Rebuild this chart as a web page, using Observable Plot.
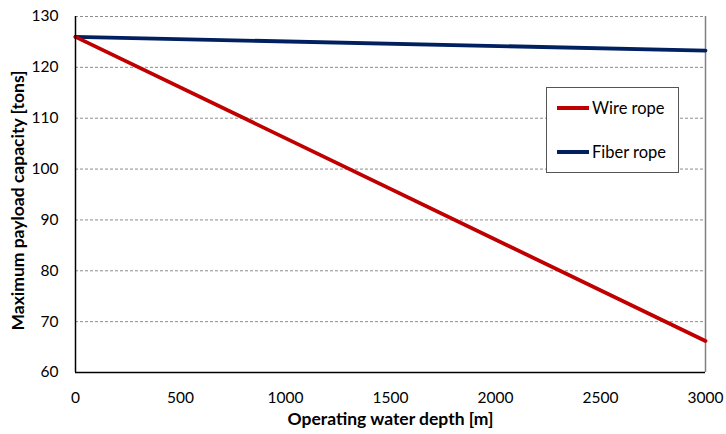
<!DOCTYPE html>
<html><head><meta charset="utf-8">
<script src="https://cdn.jsdelivr.net/npm/d3@7"></script>
<script src="https://cdn.jsdelivr.net/npm/@observablehq/plot@0.6"></script>
<style>
body{margin:0;background:#fff;}
#wrap{position:relative;width:726px;height:434px;font-family:Lato,"Open Sans",sans-serif;}
#legend{position:absolute;left:546px;top:87px;width:133px;height:86px;border:1px solid #555;background:#fff;box-sizing:border-box;font-size:16.5px;color:#000;}
.item{position:absolute;left:10px;height:20px;display:flex;align-items:center;}
.sw{width:32px;height:3.5px;margin-right:3px;}
</style></head>
<body><div id="wrap"><div id="legend"></div></div>
<script>
const depth = [0, 3000];
const wireRope = [126, 66.2];
const fiberRope = [126, 123.3];
const seriesNames = ["Wire rope", "Fiber rope"];
const seriesColors = ["#C00000", "#002060"];
const yTicks = [60, 70, 80, 90, 100, 110, 120, 130];
const xTicks = [0, 500, 1000, 1500, 2000, 2500, 3000];

const wireData = depth.map((d, i) => ({depth: d, value: wireRope[i]}));
const fiberData = depth.map((d, i) => ({depth: d, value: fiberRope[i]}));

const chart = Plot.plot({
  width: 726, height: 434,
  marginLeft: 75, marginRight: 21, marginTop: 16, marginBottom: 62,
  style: {fontFamily: "Lato, 'Open Sans', sans-serif", fontSize: "15.5px", color: "#000", background: "#fff", overflow: "visible"},
  x: {domain: [0, 3000], label: null},
  y: {domain: [60, 130], label: null},
  marks: [
    Plot.ruleY(yTicks.filter(v => v > 60), {stroke: "#8c8c8c", strokeDasharray: "3,2", strokeWidth: 1}),
    Plot.ruleX([3000], {stroke: "#808080", strokeWidth: 1.5}),
    Plot.axisX({ticks: xTicks, tickSize: 0, tickPadding: 19, fontSize: 15.5, tickFormat: "d", label: null}),
    Plot.axisY({ticks: yTicks, tickSize: 0, tickPadding: 17, fontSize: 15.5, tickFormat: "d", label: null}),
    Plot.line(fiberData, {x: "depth", y: "value", stroke: seriesColors[1], strokeWidth: 3.8}),
    Plot.line(wireData, {x: "depth", y: "value", stroke: seriesColors[0], strokeWidth: 3.8}),
    Plot.ruleX([0], {stroke: "#000", strokeWidth: 1.5}),
    Plot.ruleY([60], {stroke: "#000", strokeWidth: 1.5}),
    Plot.text(["Operating water depth [m]"], {frameAnchor: "bottom", textAnchor: "middle", lineAnchor: "middle", dy: 47, fontWeight: "bold", fontSize: 17.5}),
    Plot.text(["Maximum payload capacity [tons]"], {frameAnchor: "left", textAnchor: "middle", lineAnchor: "middle", dx: -57, dy: 6, rotate: -90, fontWeight: "bold", fontSize: 17.5})
  ]
});
document.getElementById("wrap").prepend(chart);

const legend = document.getElementById("legend");
seriesNames.forEach((name, i) => {
  const it = document.createElement("div");
  it.className = "item";
  it.style.top = (i === 0 ? 10 : 54) + "px";
  const sw = document.createElement("div");
  sw.className = "sw"; sw.style.background = seriesColors[i];
  const t = document.createElement("span"); t.textContent = name;
  it.append(sw, t);
  legend.append(it);
});
</script></body></html>
